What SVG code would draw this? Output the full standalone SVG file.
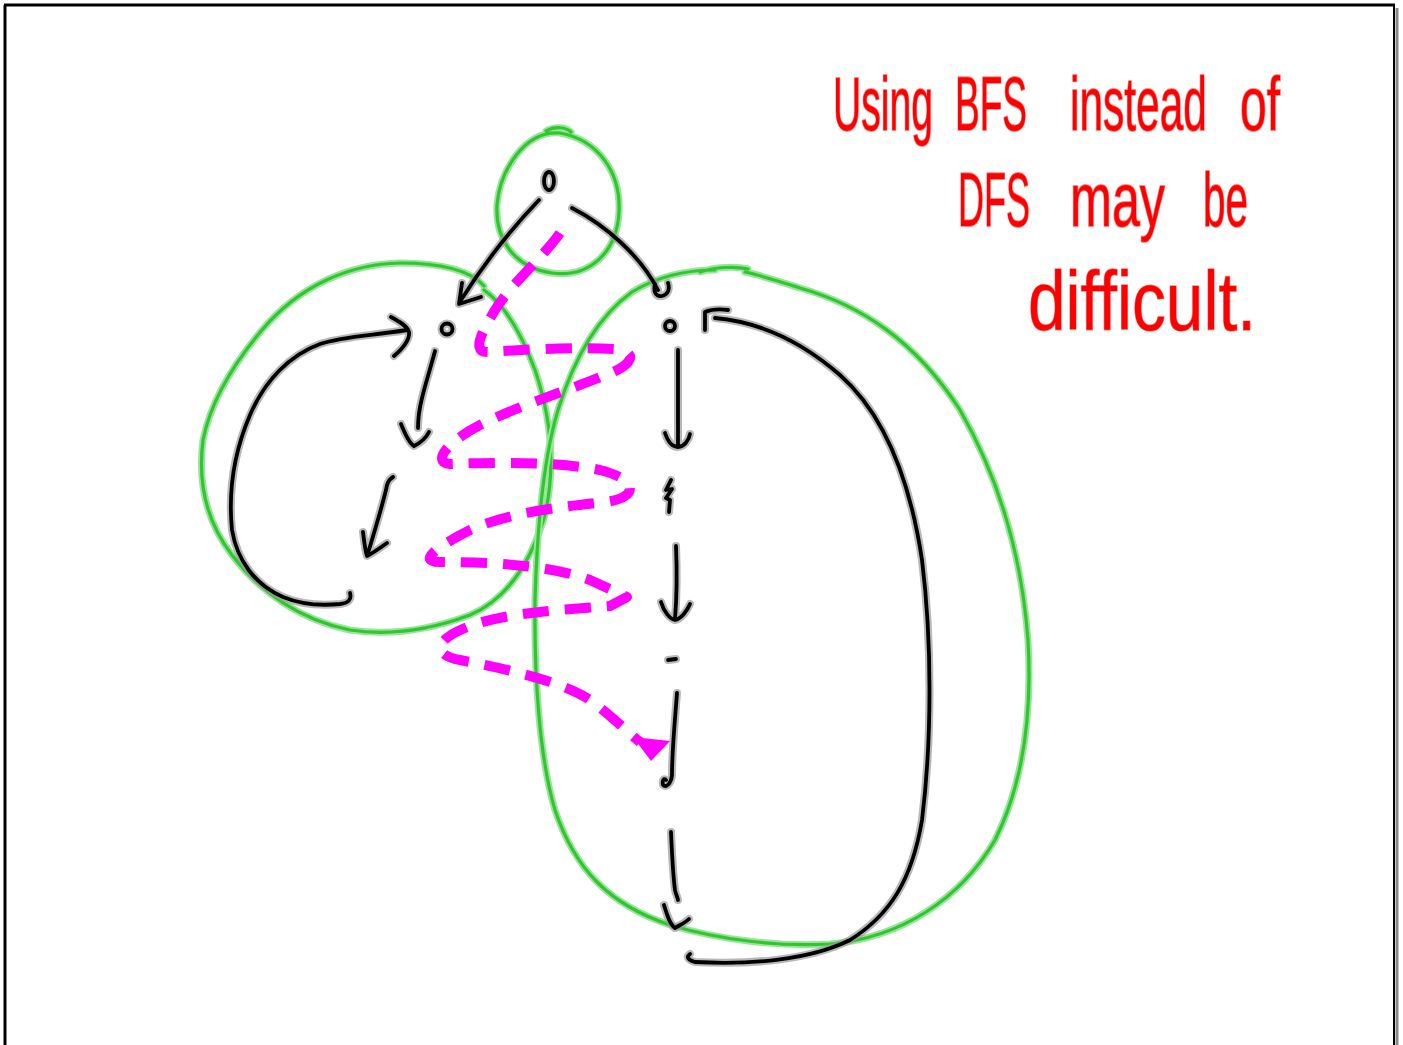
<svg xmlns="http://www.w3.org/2000/svg" xmlns:xlink="http://www.w3.org/1999/xlink" width="1403" height="1045" viewBox="0 0 1403 1045">
<style>
.halo{fill:none;stroke:#9a9a9a;stroke-width:8;stroke-linecap:round;stroke-linejoin:round;opacity:.7}
.ink{fill:none;stroke:#000;stroke-width:3.8;stroke-linecap:round;stroke-linejoin:round}
.ghalo{fill:none;stroke:#9be49b;stroke-width:7;stroke-linecap:round;stroke-linejoin:round}
.gink{fill:none;stroke:#2fc62f;stroke-width:3.2;stroke-linecap:round;stroke-linejoin:round}
.mag{fill:none;stroke:#ff00ff;stroke-width:10;stroke-dasharray:26 16;stroke-linecap:butt;stroke-linejoin:round}
.red{font-family:"Liberation Sans",Arial,sans-serif;font-size:40px;fill:#ff0000;stroke:#ff8a8a;stroke-width:1;paint-order:stroke}
</style>
<defs>
<ellipse id="g-top" cx="549" cy="181" rx="5" ry="9"/>
<circle id="g-left" cx="447" cy="329" r="5.5"/>
<circle id="g-right" cx="670" cy="326" r="5"/>
<path id="g-c1" d="M671,480 L666,490 L672,489 L666,498 L670,500 L669,512"/>
<path id="g-c2" d="M668,660 L676,659"/>
<path id="g-c3" d="M677,693 C675,720 672,750 672,775 C671,784 666,788 663,785 C662,780 664,778 666,780"/>
<path id="g-c4" d="M671,832 C672,855 673,875 675,890 C676,895 678,898 678,900"/>
<path id="g-c5" d="M664,905 C667,915 670,925 675,928 C680,925 686,922 689,919"/>
<path id="c-tl" d="M539,200 C515,225 485,262 461,300 M462,283 L459,304 L481,297"/>
<path id="c-tr" d="M572,208 C605,225 640,255 658,290 M655,284 C653,292 656,297 662,296 C668,295 670,289 668,283"/>
<path id="c-l1" d="M435,351 C430,370 425,385 422,398 C419,410 418,420 418,428 M401,424 C405,434 409,443 414,446 C420,443 426,438 429,432"/>
<path id="c-l2" d="M393,477 C388,480 387,484 386,490 C381,510 375,530 368,553 M363,532 C364,540 365,550 367,556 C373,553 380,548 387,543"/>
<path id="c-loop" d="M350,593 C352,600 348,603 340,604 C320,606 300,604 283,597 C255,585 237,560 232,530 C228,490 235,450 250,415 C265,380 290,355 320,344 C345,336 370,336 407,330 M391,317 C400,322 407,326 409,332 C410,340 402,349 394,356"/>
<path id="c-r1" d="M678,350 C678,380 678,415 678,445 M665,433 C668,442 673,447 678,447 C684,447 689,440 690,434"/>
<path id="c-r2" d="M676,546 C677,570 677,595 675,619 M661,602 C664,612 670,619 675,620 C681,619 687,611 690,604"/>
<path id="c-back" d="M705,330 L705,312 C712,309 720,309 728,310 M715,318 C760,322 800,340 840,375 C885,415 910,480 922,560 C932,640 932,740 922,820 C912,880 890,915 850,940 C810,960 750,965 695,962 C688,960 686,957 690,954"/>
</defs>

<g id="frame">
<line x1="5" y1="5" x2="5" y2="1045" stroke="#000" stroke-width="3"/>
<line x1="4" y1="5" x2="1395" y2="5" stroke="#000" stroke-width="3"/>
<line x1="1397" y1="8" x2="1397" y2="1045" stroke="#8a8a8a" stroke-width="3"/>
<line x1="1394" y1="5" x2="1394" y2="1045" stroke="#000" stroke-width="2"/>
</g>

<g id="groups">
<g id="group-top">
<path class="ghalo" d="M560,133 C525,130 500,170 497,205 C495,240 515,268 552,273 C590,278 617,252 619,212 C621,172 598,140 560,133 M546,131 C555,126 566,127 571,132"/>
<path class="gink" d="M560,133 C525,130 500,170 497,205 C495,240 515,268 552,273 C590,278 617,252 619,212 C621,172 598,140 560,133 M546,131 C555,126 566,127 571,132"/>
</g>
<g id="group-left">
<path class="ghalo" d="M484,286 C470,270 440,263 400,263 C350,264 300,285 262,330 C230,368 210,405 203,440 C198,480 205,520 232,555 C260,592 300,620 350,630 C390,636 430,630 470,615 C505,600 530,565 545,515 C555,470 552,420 535,370 C522,335 505,305 484,290"/>
<path class="gink" d="M484,286 C470,270 440,263 400,263 C350,264 300,285 262,330 C230,368 210,405 203,440 C198,480 205,520 232,555 C260,592 300,620 350,630 C390,636 430,630 470,615 C505,600 530,565 545,515 C555,470 552,420 535,370 C522,335 505,305 484,290"/>
</g>
<g id="group-right">
<path class="ghalo" d="M715,270 C690,270 660,275 632,292 C600,315 575,355 558,410 C543,460 537,530 535,600 C534,680 540,760 555,810 C575,870 610,905 670,925 C720,940 780,947 830,944 C900,938 960,900 995,840 C1025,780 1032,710 1028,640 C1022,560 1000,480 960,410 C915,340 860,305 800,288 C775,280 760,275 745,272 M700,272 C715,267 735,266 748,269"/>
<path class="gink" d="M715,270 C690,270 660,275 632,292 C600,315 575,355 558,410 C543,460 537,530 535,600 C534,680 540,760 555,810 C575,870 610,905 670,925 C720,940 780,947 830,944 C900,938 960,900 995,840 C1025,780 1032,710 1028,640 C1022,560 1000,480 960,410 C915,340 860,305 800,288 C775,280 760,275 745,272 M700,272 C715,267 735,266 748,269"/>
</g>
</g>

<g id="nodes">
<g id="node-top"><use xlink:href="#g-top" class="halo"/><use xlink:href="#g-top" class="ink"/></g>
<g id="node-left"><use xlink:href="#g-left" class="halo"/><use xlink:href="#g-left" class="ink"/></g>
<g id="node-right"><use xlink:href="#g-right" class="halo"/><use xlink:href="#g-right" class="ink"/></g>
<g id="node-c1"><use xlink:href="#g-c1" class="halo"/><use xlink:href="#g-c1" class="ink"/></g>
<g id="node-c2"><use xlink:href="#g-c2" class="halo"/><use xlink:href="#g-c2" class="ink"/></g>
<g id="node-c3"><use xlink:href="#g-c3" class="halo"/><use xlink:href="#g-c3" class="ink"/></g>
<g id="node-c4"><use xlink:href="#g-c4" class="halo"/><use xlink:href="#g-c4" class="ink"/></g>
<g id="node-c5"><use xlink:href="#g-c5" class="halo"/><use xlink:href="#g-c5" class="ink"/></g>
</g>

<g id="connectors">
<use xlink:href="#c-tl" class="halo"/><use xlink:href="#c-tl" class="ink"/>
<use xlink:href="#c-tr" class="halo"/><use xlink:href="#c-tr" class="ink"/>
<use xlink:href="#c-l1" class="halo"/><use xlink:href="#c-l1" class="ink"/>
<use xlink:href="#c-l2" class="halo"/><use xlink:href="#c-l2" class="ink"/>
<use xlink:href="#c-loop" class="halo"/><use xlink:href="#c-loop" class="ink"/>
<use xlink:href="#c-r1" class="halo"/><use xlink:href="#c-r1" class="ink"/>
<use xlink:href="#c-r2" class="halo"/><use xlink:href="#c-r2" class="ink"/>
<use xlink:href="#c-back" class="halo"/><use xlink:href="#c-back" class="ink"/>
<g id="bfs-order">
<path class="mag" d="M560,233 C545,255 510,285 495,310 C480,335 472,352 488,352 C530,349 580,347 615,349 C640,352 632,366 605,375 C570,390 520,405 480,425 C450,440 430,462 450,464 C500,462 560,462 600,470 C640,480 638,498 605,502 C560,507 510,512 470,530 C440,545 415,562 440,562 C490,562 550,565 590,580 L627,597 L610,606 C560,610 500,613 465,628 C435,640 432,655 460,660 C500,668 560,680 590,700 C612,716 625,730 640,742"/>
<polygon points="633,737 670,741 651,761" fill="#ff00ff"/>
</g>
</g>

<g id="annotation" class="red">
<text transform="translate(833,130) scale(1,1.9)" textLength="100" lengthAdjust="spacingAndGlyphs">Using</text>
<text transform="translate(955,130) scale(1,1.9)" textLength="72" lengthAdjust="spacingAndGlyphs">BFS</text>
<text transform="translate(1070,130) scale(1,1.9)" textLength="137" lengthAdjust="spacingAndGlyphs">instead</text>
<text transform="translate(1240,130) scale(1,1.9)" textLength="40" lengthAdjust="spacingAndGlyphs">of</text>
<text transform="translate(958,226) scale(1,1.9)" textLength="72" lengthAdjust="spacingAndGlyphs">DFS</text>
<text transform="translate(1070,226) scale(1,1.9)" textLength="95" lengthAdjust="spacingAndGlyphs">may</text>
<text transform="translate(1203,226) scale(1,1.9)" textLength="45" lengthAdjust="spacingAndGlyphs">be</text>
<text transform="translate(1028,330) scale(1,1.35)" font-size="62" textLength="228" lengthAdjust="spacingAndGlyphs">difficult.</text>
</g>
</svg>
